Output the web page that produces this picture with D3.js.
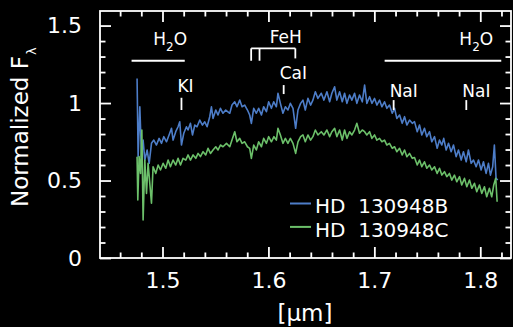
<!DOCTYPE html>
<html><head><meta charset="utf-8">
<script src="https://cdn.jsdelivr.net/npm/d3@7"></script>
<style>
html,body{margin:0;padding:0;background:#000;}
svg{display:block;}
text{font-family:"DejaVu Sans",sans-serif;fill:#fff;}
</style>
</head><body>
<svg id="c" width="513" height="327"></svg>
<script>
// ---- data (wavelength in micron, normalized flux) ----
const waveB = [
1.4760,1.4770,1.4786,1.4802,1.4817,1.4833,1.4855,1.4874,1.4896,1.4918,
1.4943,1.4968,1.4991,1.5012,1.5038,1.5062,1.5085,1.5100,1.5125,1.5147,
1.5163,1.5179,1.5201,1.5226,1.5241,1.5264,1.5283,1.5305,1.5326,1.5352,
1.5377,1.5399,1.5421,1.5446,1.5462,1.5477,1.5503,1.5524,1.5547,1.5571,
1.5597,1.5635,1.5656,1.5682,1.5703,1.5729,1.5751,1.5776,1.5802,1.5823,
1.5839,1.5861,1.5886,1.5908,1.5934,1.5955,1.5981,1.6002,1.6028,1.6050,
1.6075,1.6090,1.6113,1.6137,1.6160,1.6184,1.6207,1.6232,1.6257,1.6279,
1.6304,1.6326,1.6348,1.6373,1.6398,1.6420,1.6443,1.6467,1.6499,1.6524,
1.6552,1.6578,1.6599,1.6625,1.6646,1.6672,1.6697,1.6719,1.6741,1.6766,
1.6788,1.6813,1.6835,1.6860,1.6886,1.6908,1.6929,1.6955,1.6977,1.7002,
1.7024,1.7049,1.7071,1.7096,1.7118,1.7143,1.7169,1.7191,1.7212,1.7238,
1.7263,1.7285,1.7307,1.7332,1.7358,1.7379,1.7405,1.7426,1.7448,1.7473,
1.7495,1.7521,1.7542,1.7568,1.7593,1.7615,1.7637,1.7655,1.7678,1.7700,
1.7725,1.7747,1.7772,1.7794,1.7820,1.7841,1.7867,1.7888,1.7914,1.7936,
1.7961,1.7983,1.8008,1.8030,1.8055,1.8077,1.8096,1.8117,1.8133,1.8149,
1.8165];
const fluxB = [
1.159,0.654,0.976,0.654,0.761,0.632,0.697,0.611,0.740,0.761,
0.729,0.772,0.740,0.783,0.750,0.794,0.837,0.761,0.815,0.847,
0.879,0.729,0.805,0.847,0.826,0.869,0.794,0.858,0.847,0.890,
0.858,0.879,0.847,0.912,0.976,0.901,0.955,0.923,0.966,0.934,
0.955,0.934,0.987,1.008,0.976,1.019,0.976,0.987,0.955,0.923,
0.869,0.966,0.934,0.966,0.923,0.976,0.944,1.008,0.966,1.008,
0.976,1.063,0.998,0.934,0.976,0.955,0.998,0.966,0.837,0.955,
0.998,1.019,0.955,1.030,0.987,1.019,1.073,1.030,1.063,1.019,
1.073,1.008,1.063,1.105,1.019,1.073,1.008,1.063,0.998,1.052,
1.019,1.063,0.998,1.052,1.008,1.116,0.998,1.041,0.998,1.030,
0.987,1.019,0.976,1.008,0.966,0.987,0.934,0.966,0.901,0.923,
0.869,0.912,0.858,0.890,0.869,0.880,0.815,0.858,0.794,0.837,
0.783,0.815,0.750,0.783,0.708,0.761,0.729,0.772,0.697,0.740,
0.686,0.729,0.654,0.697,0.632,0.686,0.621,0.697,0.611,0.632,
0.589,0.632,0.568,0.621,0.546,0.611,0.535,0.589,0.729,0.514,
0.503];
const waveC = [
1.4760,1.4767,1.4779,1.4793,1.4805,1.4817,1.4833,1.4849,1.4864,1.4880,
1.4896,1.4911,1.4937,1.4959,1.4981,1.5006,1.5031,1.5053,1.5075,1.5100,
1.5125,1.5147,1.5170,1.5194,1.5220,1.5241,1.5264,1.5289,1.5314,1.5336,
1.5358,1.5383,1.5408,1.5430,1.5453,1.5477,1.5503,1.5524,1.5547,1.5571,
1.5604,1.5635,1.5656,1.5682,1.5703,1.5729,1.5751,1.5776,1.5802,1.5823,
1.5839,1.5861,1.5886,1.5908,1.5934,1.5955,1.5981,1.6002,1.6028,1.6052,
1.6075,1.6090,1.6113,1.6137,1.6160,1.6184,1.6207,1.6232,1.6257,1.6279,
1.6304,1.6326,1.6348,1.6373,1.6398,1.6420,1.6443,1.6467,1.6499,1.6524,
1.6552,1.6578,1.6599,1.6625,1.6646,1.6672,1.6697,1.6719,1.6741,1.6766,
1.6788,1.6813,1.6835,1.6860,1.6886,1.6908,1.6929,1.6955,1.6977,1.7002,
1.7024,1.7049,1.7071,1.7096,1.7118,1.7143,1.7169,1.7191,1.7212,1.7238,
1.7263,1.7285,1.7307,1.7332,1.7358,1.7379,1.7405,1.7426,1.7448,1.7473,
1.7495,1.7521,1.7542,1.7568,1.7593,1.7615,1.7637,1.7662,1.7684,1.7709,
1.7731,1.7756,1.7778,1.7804,1.7825,1.7851,1.7873,1.7898,1.7920,1.7945,
1.7967,1.7992,1.8014,1.8039,1.8061,1.8086,1.8108,1.8127,1.8146,1.8159];
const fluxC = [
0.654,0.374,0.654,0.546,0.826,0.245,0.632,0.417,0.611,0.482,
0.353,0.589,0.546,0.600,0.568,0.611,0.579,0.632,0.589,0.632,
0.600,0.643,0.600,0.643,0.632,0.665,0.632,0.665,0.643,0.675,
0.654,0.686,0.665,0.708,0.675,0.697,0.718,0.697,0.729,0.718,
0.740,0.718,0.761,0.815,0.750,0.772,0.740,0.750,0.718,0.708,
0.643,0.729,0.697,0.750,0.718,0.772,0.740,0.783,0.750,0.783,
0.761,0.837,0.794,0.740,0.772,0.740,0.772,0.740,0.675,0.750,
0.783,0.794,0.750,0.794,0.761,0.783,0.826,0.794,0.815,0.794,
0.826,0.783,0.815,0.837,0.783,0.826,0.761,0.826,0.772,0.815,
0.794,0.826,0.869,0.805,0.826,0.815,0.794,0.815,0.772,0.794,
0.761,0.772,0.750,0.761,0.729,0.740,0.708,0.718,0.686,0.708,
0.665,0.697,0.654,0.675,0.643,0.648,0.600,0.632,0.589,0.621,
0.579,0.600,0.568,0.589,0.546,0.579,0.535,0.557,0.525,0.546,
0.503,0.535,0.492,0.525,0.471,0.514,0.460,0.503,0.450,0.482,
0.428,0.471,0.417,0.460,0.395,0.450,0.395,0.471,0.514,0.363];

const seriesNames = ["HD  130948B", "HD  130948C"];
const xTickValues = [1.5, 1.6, 1.7, 1.8];
const xTickLabels = ["1.5", "1.6", "1.7", "1.8"];
const yTickValues = [0, 0.5, 1, 1.5];
const yTickLabels = ["0", "0.5", "1", "1.5"];

// spectral features
const waterBands = [[1.4708, 1.5210], [1.7097, 1.8198]];
const waterLabelW = [1.5072, 1.7962];
const fehHeads = [1.5837, 1.5916, 1.6254];
const fehLabelW = 1.6163;
const atomLabels = ["KI", "CaI", "NaI", "NaI"];
const atomWaves = [1.5179, 1.6144, 1.7182, 1.7868];

// ---- layout / style ----
const colors = ["#4d7dc8", "#6cc06a"];
const svg = d3.select("#c");
svg.append("rect").attr("width", 513).attr("height", 327).attr("fill", "#000");

const x = d3.scaleLinear().domain([1.441, 1.829]).range([100, 511]);
const y = d3.scaleLinear().domain([0, 1.594]).range([258, 11]);

// spectra
const line = d3.line().x(d => x(d[0])).y(d => y(d[1]));
const series = [d3.zip(waveB, fluxB), d3.zip(waveC, fluxC)];
svg.append("defs").append("clipPath").attr("id", "clip")
  .append("rect").attr("x", 100).attr("y", 11).attr("width", 411).attr("height", 247);
svg.append("g").attr("clip-path", "url(#clip)")
  .selectAll("path").data(series).join("path")
  .attr("d", line).attr("fill", "none")
  .attr("stroke", (d, i) => colors[i]).attr("stroke-width", 1.6)
  .attr("stroke-linejoin", "round");

// axes
const sw = 1.8;
const majorLen = 11, minorLen = 5.5;
const xMinor = d3.range(72, 92).map(i => +(i * 0.02).toFixed(2)).filter(v => v > 1.441 && v < 1.829 && Math.round(v * 100) % 10 !== 0);
const yMinor = d3.range(1, 16).map(i => +(i * 0.1).toFixed(1)).filter(v => Math.round(v * 10) % 5 !== 0);

function styleAxis(g) {
  g.attr("color", "#fff");
  g.select(".domain").remove();
  g.selectAll("line").attr("stroke-width", sw);
  g.selectAll("text").attr("font-family", "DejaVu Sans, sans-serif").attr("font-size", 22).attr("fill", "#fff");
}
// bottom
svg.append("g").attr("transform", "translate(0,258)")
  .call(d3.axisBottom(x).tickValues(xMinor).tickSize(-minorLen).tickFormat("")).call(styleAxis);
svg.append("g").attr("transform", "translate(0,258)")
  .call(d3.axisBottom(x).tickValues(xTickValues).tickSize(-majorLen).tickPadding(14)
    .tickFormat((d, i) => xTickLabels[i])).call(styleAxis);
// top
svg.append("g").attr("transform", "translate(0,11)")
  .call(d3.axisTop(x).tickValues(xMinor).tickSize(-minorLen).tickFormat("")).call(styleAxis);
svg.append("g").attr("transform", "translate(0,11)")
  .call(d3.axisTop(x).tickValues(xTickValues).tickSize(-majorLen).tickFormat("")).call(styleAxis);
// left
svg.append("g").attr("transform", "translate(100,0)")
  .call(d3.axisLeft(y).tickValues(yMinor).tickSize(-minorLen).tickFormat("")).call(styleAxis);
svg.append("g").attr("transform", "translate(100,0)")
  .call(d3.axisLeft(y).tickValues(yTickValues).tickSize(-majorLen).tickPadding(18)
    .tickFormat((d, i) => yTickLabels[i])).call(styleAxis);
// right
svg.append("g").attr("transform", "translate(511,0)")
  .call(d3.axisRight(y).tickValues(yMinor).tickSize(-minorLen).tickFormat("")).call(styleAxis);
svg.append("g").attr("transform", "translate(511,0)")
  .call(d3.axisRight(y).tickValues(yTickValues).tickSize(-majorLen).tickFormat("")).call(styleAxis);

// frame
svg.append("rect").attr("x", x.range()[0]).attr("y", y.range()[1])
  .attr("width", x.range()[1] - x.range()[0]).attr("height", y.range()[0] - y.range()[1])
  .attr("fill", "none").attr("stroke", "#fff").attr("stroke-width", sw);

// axis titles
svg.append("text").attr("x", 305).attr("y", 321).attr("text-anchor", "middle")
  .attr("font-size", 23).text("[μm]");
const yl = svg.append("text").attr("transform", "translate(28,207) rotate(-90)")
  .attr("font-size", 23);
yl.append("tspan").text("Normalized F");
yl.append("tspan").attr("dx", 1).attr("dy", 8).attr("font-size", 13).text("λ");

// annotations
const ann = svg.append("g").attr("stroke", "#fff").attr("stroke-width", sw);
const bandLevel = 1.273, labelBase = 1.374;
waterBands.forEach((b, i) => {
  ann.append("line").attr("x1", x(b[0])).attr("x2", x(b[1]))
    .attr("y1", y(bandLevel)).attr("y2", y(bandLevel));
  const t = svg.append("text").attr("x", x(waterLabelW[i])).attr("y", y(labelBase))
    .attr("text-anchor", "middle").attr("font-size", 17);
  t.append("tspan").text("H");
  t.append("tspan").attr("font-size", 12).attr("dy", 6).text("2");
  t.append("tspan").attr("dy", -6).text("O");
});
// FeH bracket
const fehTop = 1.353, fehBottom = [1.273, 1.273, 1.288];
ann.append("line").attr("x1", x(fehHeads[0])).attr("x2", x(fehHeads[2]))
  .attr("y1", y(fehTop)).attr("y2", y(fehTop));
fehHeads.forEach((w, i) => {
  ann.append("line").attr("x1", x(w)).attr("x2", x(w))
    .attr("y1", y(fehTop)).attr("y2", y(fehBottom[i]));
});
svg.append("text").attr("x", x(fehLabelW)).attr("y", y(1.389))
  .attr("text-anchor", "middle").attr("font-size", 17).text("FeH");
// atomic lines
const atomLevels = [[0.955, 1.034, 1.072], [1.058, 1.116, 1.155], [0.955, 1.019, 1.039], [0.955, 1.019, 1.039]];
atomWaves.forEach((w, i) => {
  const lv = atomLevels[i];
  ann.append("line").attr("x1", x(w)).attr("x2", x(w))
    .attr("y1", y(lv[0])).attr("y2", y(lv[1]));
  svg.append("text").attr("x", x(w) - 4).attr("y", y(lv[2]))
    .attr("font-size", 17).text(atomLabels[i]);
});

// legend
const leg = svg.append("g");
seriesNames.forEach((n, i) => {
  const yy = 203.5 + i * 23.4;
  leg.append("line").attr("x1", 290).attr("x2", 311).attr("y1", yy).attr("y2", yy)
    .attr("stroke", colors[i]).attr("stroke-width", 2);
  leg.append("text").attr("x", 315).attr("y", yy + 9.7).attr("font-size", 20)
    .style("white-space", "pre").text(n);
});
</script>
</body></html>
